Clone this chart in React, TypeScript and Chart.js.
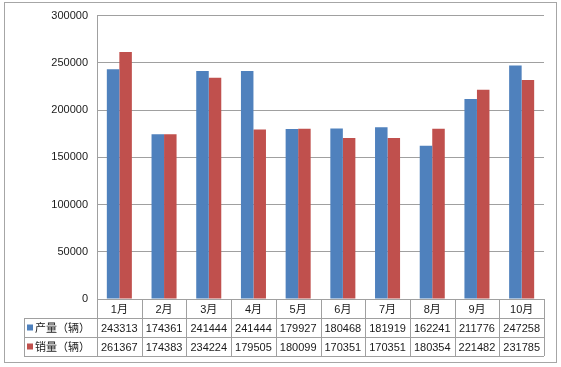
import React, { useEffect, useRef } from "react";
import { Chart, registerables } from "chart.js";

Chart.register(...registerables);

const categories = ["1月", "2月", "3月", "4月", "5月", "6月", "7月", "8月", "9月", "10月"];
const productionLabel = "产量（辆）";
const salesLabel = "销量（辆）";
const production = [243313, 174361, 241444, 241444, 179927, 180468, 181919, 162241, 211776, 247258];
const sales = [261367, 174383, 234224, 179505, 180099, 170351, 170351, 180354, 221482, 231785];
const yTicks = [0, 50000, 100000, 150000, 200000, 250000, 300000];

const BLUE = "#4F81BD";
const RED = "#C0504D";
const FONT = '"Liberation Sans", "Noto Sans CJK SC", sans-serif';

const tablePlugin = {
  id: "tablePlugin",
  afterDraw(chart: any) {
    const ctx = chart.ctx as CanvasRenderingContext2D;
    const area = chart.chartArea;
    const xs = chart.scales.x;
    const n = categories.length;
    const colW = (area.right - area.left) / n;
    const top = area.bottom;
    const rowH = 19;
    const r1 = top + 19;
    const r2 = r1 + rowH;
    const r3 = r2 + rowH;
    const tableLeft = 24;
    ctx.save();
    // outer frame
    ctx.strokeStyle = "#A6A6A6";
    ctx.lineWidth = 1;
    ctx.strokeRect(4.5, 2.5, 552, 360);

    ctx.strokeStyle = "#A0A0A0";
    ctx.beginPath();
    // horizontal lines
    ctx.moveTo(area.left, top + 0.5);
    ctx.lineTo(area.right, top + 0.5);
    ctx.moveTo(tableLeft, r1 + 0.5);
    ctx.lineTo(area.right, r1 + 0.5);
    ctx.moveTo(tableLeft, r2 + 0.5);
    ctx.lineTo(area.right, r2 + 0.5);
    ctx.moveTo(tableLeft, r3 + 0.5);
    ctx.lineTo(area.right, r3 + 0.5);
    // vertical lines
    ctx.moveTo(tableLeft + 0.5, r1);
    ctx.lineTo(tableLeft + 0.5, r3);
    for (let i = 0; i <= n; i++) {
      const x = Math.round(area.left + i * colW) + 0.5;
      ctx.moveTo(x, top);
      ctx.lineTo(x, r3);
    }
    ctx.stroke();

    ctx.fillStyle = "#1a1a1a";
    ctx.font = "11px " + FONT;
    ctx.textAlign = "center";
    ctx.textBaseline = "middle";
    for (let i = 0; i < n; i++) {
      const cx = xs.getPixelForValue(i);
      ctx.fillText(categories[i], cx, (top + r1) / 2 + 1);
      ctx.fillText(String(production[i]), cx, (r1 + r2) / 2 + 1);
      ctx.fillText(String(sales[i]), cx, (r2 + r3) / 2 + 1);
    }
    // legend keys
    ctx.fillStyle = BLUE;
    ctx.fillRect(27, (r1 + r2) / 2 - 3, 6, 6);
    ctx.fillStyle = RED;
    ctx.fillRect(27, (r2 + r3) / 2 - 3, 6, 6);
    ctx.fillStyle = "#1a1a1a";
    ctx.textAlign = "left";
    ctx.font = "11px " + FONT;
    ctx.fillText(productionLabel, 35, (r1 + r2) / 2 + 1);
    ctx.fillText(salesLabel, 35, (r2 + r3) / 2 + 1);
    ctx.restore();
  },
};

export default function App() {
  const ref = useRef<HTMLCanvasElement | null>(null);
  useEffect(() => {
    document.body.style.margin = "0";
    const canvas = ref.current!;
    const chart = new Chart(canvas, {
      type: "bar",
      data: {
        labels: categories,
        datasets: [
          { label: productionLabel, data: production, backgroundColor: BLUE, categoryPercentage: 0.56, barPercentage: 1 },
          { label: salesLabel, data: sales, backgroundColor: RED, categoryPercentage: 0.56, barPercentage: 1 },
        ],
      },
      options: {
        responsive: false,
        animation: false,
        devicePixelRatio: 1,
        layout: { padding: { left: 0, top: 15, right: 17, bottom: 68 } },
        plugins: { legend: { display: false }, tooltip: { enabled: false } },
        scales: {
          x: { display: false },
          y: {
            min: 0,
            max: 300000,
            afterFit: (s: any) => { s.width = 97; },
            afterBuildTicks: (s: any) => { s.ticks = yTicks.map((v) => ({ value: v })); },
            ticks: {
              padding: 9,
              color: "#1a1a1a",
              font: { family: FONT, size: 11 },
              callback: (v: any) => String(v),
            },
            grid: { color: "#A0A0A0", drawTicks: false },
            border: { color: "#A0A0A0" },
          },
        },
      },
      plugins: [tablePlugin],
    });
    return () => chart.destroy();
  }, []);
  return <canvas ref={ref} width={561} height={367} style={{ display: "block" }} />;
}
